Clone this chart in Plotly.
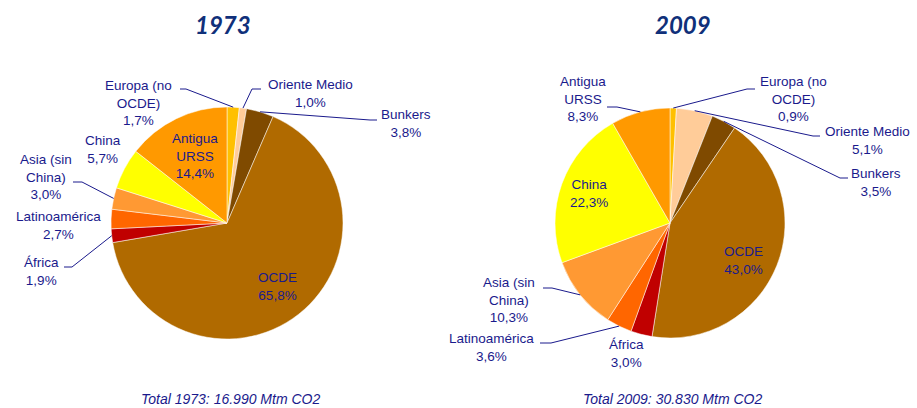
import math
import plotly.graph_objects as go

# Data
regions = ["Europa (no OCDE)", "Oriente Medio", "Bunkers", "OCDE", "África",
           "Latinoamérica", "Asia (sin China)", "China", "Antigua URSS"]
share_1973 = [1.7, 1.0, 3.8, 65.8, 1.9, 2.7, 3.0, 5.7, 14.4]
share_2009 = [0.9, 5.1, 3.5, 43.0, 3.0, 3.6, 10.3, 22.3, 8.3]
years = ["1973", "2009"]
totals = ["16.990", "30.830"]

colors = ["#FFC000", "#FFCC99", "#7F4A00", "#B06A00", "#C00000",
          "#FF6600", "#FF9933", "#FFFF00", "#FF9900"]

# how the long names break over lines
wrapped = {"Europa (no OCDE)": "Europa (no<br>OCDE)",
           "Asia (sin China)": "Asia (sin<br>China)",
           "Antigua URSS": "Antigua<br>URSS"}

W, H = 917, 408
TEXT_COLOR = "#1A1A8C"
TITLE_COLOR = "#10307A"

# pie geometry in pixels (center x, center y, radius)
geom = {"1973": (227, 223, 116), "2009": (670, 223, 115)}

# label placement (pixels): inside labels use a fraction of the radius,
# outside labels get a text position and optional leader line start/elbow
place = {
    "1973": {
        "Europa (no OCDE)": dict(text=(138, 103), line=[(180, 89), (186, 89)]),
        "Oriente Medio": dict(text=(310, 94), line=[(261, 89), (252, 89)]),
        "Bunkers": dict(text=(406, 123), line=[(377, 120), (370, 120)]),
        "OCDE": dict(inside=0.7),
        "África": dict(text=(41, 271), line=[(64, 267), (72, 267)]),
        "Latinoamérica": dict(text=(58, 225)),
        "Asia (sin China)": dict(text=(46, 177), line=[(73, 182), (82, 182)]),
        "China": dict(text=(103, 149)),
        "Antigua URSS": dict(inside=0.64),
    },
    "2009": {
        "Europa (no OCDE)": dict(text=(793, 99), line=[(755, 89), (747, 89)]),
        "Oriente Medio": dict(text=(867, 140), line=[(820, 136), (813, 136)]),
        "Bunkers": dict(text=(876, 182), line=[(848, 178), (840, 178)]),
        "OCDE": dict(text=(743, 260)),
        "África": dict(text=(626, 353)),
        "Latinoamérica": dict(text=(491, 347), line=[(540, 343), (551, 343)]),
        "Asia (sin China)": dict(text=(509, 300), line=[(543, 288), (552, 288)]),
        "China": dict(inside=0.75),
        "Antigua URSS": dict(text=(583, 99), line=[(607, 107), (617, 107)]),
    },
}


def px(x):
    return x / W


def py(y):
    return 1 - y / H


def mid_angle(values, i):
    total = sum(values)
    before = sum(values[:i])
    return (before + values[i] / 2) / total * 2 * math.pi


def fmt(v):
    return f"{v:.1f}".replace(".", ",") + "%"


fig = go.Figure()
annotations = []
shapes = []

for year, values in zip(years, [share_1973, share_2009]):
    cx, cy, r = geom[year]
    fig.add_trace(go.Pie(
        values=values,
        labels=regions,
        sort=False,
        direction="clockwise",
        rotation=0,
        marker=dict(colors=colors, line=dict(color="white", width=0.5)),
        textinfo="none",
        hovertemplate="%{label}: %{percent}<extra>" + year + "</extra>",
        domain=dict(x=[px(cx - r), px(cx + r)], y=[py(cy + r), py(cy - r)]),
        showlegend=False,
    ))

    for i, name in enumerate(regions):
        p = place[year][name]
        label = wrapped.get(name, name) + "<br>" + fmt(values[i])
        a = mid_angle(values, i)
        if "inside" in p:
            f = p["inside"] * r
            tx, ty = cx + f * math.sin(a), cy - f * math.cos(a)
        else:
            tx, ty = p["text"]
            if "line" in p:
                ex, ey = cx + r * math.sin(a), cy - r * math.cos(a)
                (x0, y0), (x1, y1) = p["line"]
                shapes.append(dict(
                    type="path", xref="paper", yref="paper",
                    path=f"M {px(x0)},{py(y0)} L {px(x1)},{py(y1)} L {px(ex)},{py(ey)}",
                    line=dict(color=TEXT_COLOR, width=1),
                ))
        annotations.append(dict(
            x=px(tx), y=py(ty), xref="paper", yref="paper",
            text=label, showarrow=False, align="center",
            xanchor="center", yanchor="middle",
            font=dict(family="Liberation Sans, Arial", size=13.5, color=TEXT_COLOR),
        ))

# titles and totals
for year, tx in zip(years, [223, 683]):
    annotations.append(dict(
        x=px(tx), y=py(24), xref="paper", yref="paper", showarrow=False,
        text=f"<b><i>{year}</i></b>", xanchor="center", yanchor="middle",
        font=dict(family="Lato, Open Sans", size=24, color=TITLE_COLOR),
    ))
for year, total, tx in zip(years, totals, [230, 672]):
    annotations.append(dict(
        x=px(tx), y=py(399), xref="paper", yref="paper", showarrow=False,
        text=f"<i>Total {year}: {total} Mtm CO2</i>", xanchor="center", yanchor="middle",
        font=dict(family="Liberation Sans, Arial", size=14, color=TEXT_COLOR),
    ))

fig.update_layout(
    width=W, height=H,
    margin=dict(l=0, r=0, t=0, b=0),
    paper_bgcolor="white", plot_bgcolor="white",
    annotations=annotations,
    shapes=shapes,
)

fig.write_html("out.html", config={"displayModeBar": False},
               post_script="document.body.style.margin='0';")
